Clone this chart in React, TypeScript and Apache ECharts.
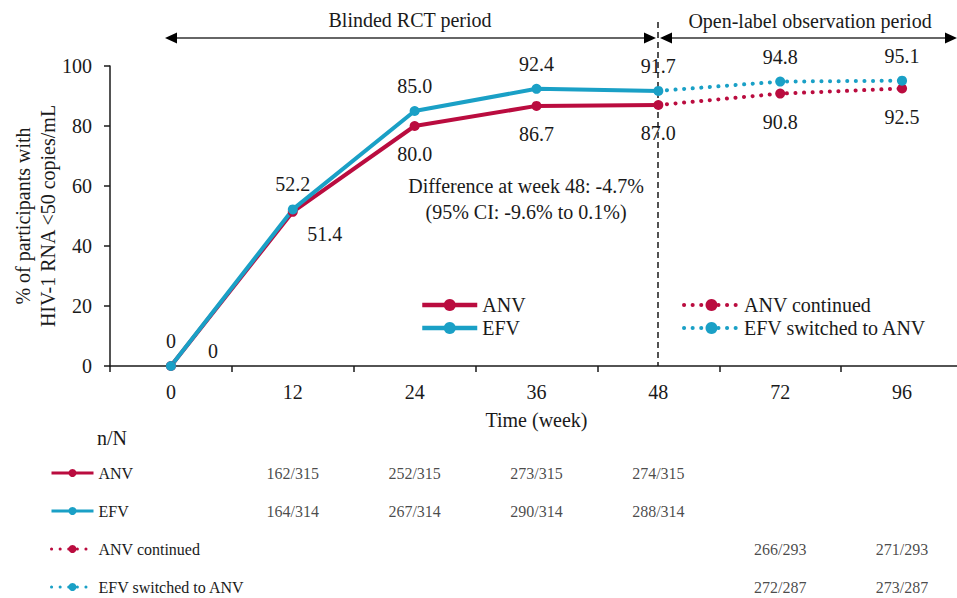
import React, { useEffect, useRef } from "react";
import * as echarts from "echarts";

const weeks = ["0", "12", "24", "36", "48", "72", "96"];
const anv = [0, 51.4, 80.0, 86.7, 87.0, null, null];
const efv = [0, 52.2, 85.0, 92.4, 91.7, null, null];
const anvContinued = [null, null, null, null, 87.0, 90.8, 92.5];
const efvSwitched = [null, null, null, null, 91.7, 94.8, 95.1];
const yTicks = { min: 0, max: 100, interval: 20 };

const rowNames = ["ANV", "EFV", "ANV continued", "EFV switched to ANV"];
const anvN = [null, 162, 252, 273, 274, null, null];
const efvN = [null, 164, 267, 290, 288, null, null];
const anvContN = [null, null, null, null, null, 266, 271];
const efvSwN = [null, null, null, null, null, 272, 273];
const totals = [315, 314, 293, 287];

const RED = "#BA0C3F";
const BLUE = "#1AA0C6";
const FONT = '"Liberation Serif", "Times New Roman", serif';
const INK = "#1a1a1a";

const fmt = (v: number) => (v === 0 ? "0" : v.toFixed(1));

export default function App() {
  const ref = useRef<HTMLDivElement>(null);
  useEffect(() => {
    if (!ref.current) return;
    const chart = echarts.init(ref.current, undefined, { renderer: "svg" });

    const labelBase = {
      show: true,
      fontFamily: FONT,
      fontSize: 20,
      color: INK,
      formatter: (p: any) => fmt(p.value as number),
    };

    const anvData = anv.map((v, i) => {
      if (v === null) return null;
      if (i === 0) return { value: v, label: { position: "inside", offset: [42, -15] } };
      if (i === 1) return { value: v, label: { position: "inside", offset: [32, 22] } };
      return v;
    });
    const dottedData = (arr: (number | null)[]) =>
      arr.map((v, i) => {
        if (v === null) return null;
        if (i === 4) return { value: v, symbol: "none", label: { show: false } };
        return v;
      });

    const nArrays = [anvN, efvN, anvContN, efvSwN];
    const tableData: any[] = [];
    nArrays.forEach((arr, r) => {
      arr.forEach((n, c) => {
        if (n !== null) tableData.push([weeks[c], rowNames[r], `${n}/${totals[r]}`]);
      });
    });

    const dotted = { type: [0.1, 8.5], cap: "round", width: 4 };

    chart.setOption({
      animation: false,
      textStyle: { fontFamily: FONT },
      grid: [
        { left: 110, right: -6, top: 66, bottom: 232, outerBoundsMode: "none", containLabel: false },
        { left: 110, right: -6, top: 454, bottom: -8, outerBoundsMode: "none", containLabel: false },
      ],
      xAxis: [
        {
          type: "category",
          gridIndex: 0,
          data: weeks,
          boundaryGap: true,
          name: "Time (week)",
          nameLocation: "middle",
          nameGap: 44,
          nameMoveOverlap: false,
          nameTextStyle: { fontFamily: FONT, fontSize: 20, color: INK },
          axisLine: { lineStyle: { color: INK, width: 1.5 } },
          axisTick: { show: true, length: 6, lineStyle: { color: INK, width: 1.5 } },
          axisLabel: { fontFamily: FONT, fontSize: 20, color: INK, margin: 16 },
          splitLine: { show: false },
        },
        {
          type: "category",
          gridIndex: 1,
          data: weeks,
          boundaryGap: true,
          show: false,
        },
      ],
      yAxis: [
        {
          type: "value",
          gridIndex: 0,
          min: yTicks.min,
          max: yTicks.max,
          interval: yTicks.interval,
          name: "% of participants with\nHIV-1 RNA <50 copies/mL",
          nameLocation: "middle",
          nameGap: 50,
          nameMoveOverlap: false,
          nameTextStyle: { fontFamily: FONT, fontSize: 20, color: INK, lineHeight: 25 },
          axisLine: { show: true, lineStyle: { color: INK, width: 1.5 } },
          axisTick: { show: true, length: 6, lineStyle: { color: INK, width: 1.5 } },
          axisLabel: { fontFamily: FONT, fontSize: 20, color: INK, margin: 18 },
          splitLine: { show: false },
        },
        {
          type: "category",
          gridIndex: 1,
          data: rowNames,
          inverse: true,
          show: false,
        },
      ],
      legend: [
        {
          data: ["ANV", "EFV"],
          orient: "vertical",
          left: 420,
          top: 295,
          padding: 0,
          itemWidth: 55,
          itemHeight: 15,
          itemGap: 3,
          lineStyle: { width: 4.5 },
          textStyle: { fontFamily: FONT, fontSize: 20, color: INK, lineHeight: 20 },
        },
        {
          data: ["ANV continued", "EFV switched to ANV"],
          orient: "vertical",
          left: 682,
          top: 295,
          padding: 0,
          itemWidth: 55,
          itemHeight: 15,
          itemGap: 3,
          lineStyle: { width: 4 },
          textStyle: { fontFamily: FONT, fontSize: 20, color: INK, lineHeight: 20 },
        },
        {
          data: rowNames,
          orient: "vertical",
          left: 50,
          top: 465,
          padding: 0,
          itemWidth: 42,
          itemHeight: 10,
          itemGap: 22,
          lineStyle: { width: 3 },
          textStyle: { fontFamily: FONT, fontSize: 16, color: INK, lineHeight: 16 },
        },
      ],
      series: [
        {
          name: "ANV continued",
          type: "line",
          xAxisIndex: 0,
          yAxisIndex: 0,
          data: dottedData(anvContinued),
          symbol: "circle",
          symbolSize: 10,
          color: RED,
          lineStyle: { color: RED, ...dotted },
          itemStyle: { color: RED },
          label: { ...labelBase, position: "bottom", distance: 13 },
        },
        {
          name: "EFV switched to ANV",
          type: "line",
          xAxisIndex: 0,
          yAxisIndex: 0,
          data: dottedData(efvSwitched),
          symbol: "circle",
          symbolSize: 10,
          color: BLUE,
          lineStyle: { color: BLUE, ...dotted },
          itemStyle: { color: BLUE },
          label: { ...labelBase, position: "top", distance: 10 },
        },
        {
          name: "ANV",
          type: "line",
          xAxisIndex: 0,
          yAxisIndex: 0,
          data: anvData,
          symbol: "circle",
          symbolSize: 10,
          color: RED,
          lineStyle: { color: RED, width: 4 },
          itemStyle: { color: RED },
          label: { ...labelBase, position: "bottom", distance: 13 },
        },
        {
          name: "EFV",
          type: "line",
          xAxisIndex: 0,
          yAxisIndex: 0,
          data: efv,
          symbol: "circle",
          symbolSize: 10,
          color: BLUE,
          lineStyle: { color: BLUE, width: 4 },
          itemStyle: { color: BLUE },
          label: { ...labelBase, position: "top", distance: 10 },
        },
        {
          name: "n/N",
          type: "scatter",
          xAxisIndex: 1,
          yAxisIndex: 1,
          data: tableData,
          symbolSize: 1,
          silent: true,
          itemStyle: { color: "transparent" },
          label: {
            show: true,
            position: "inside",
            fontFamily: FONT,
            fontSize: 16,
            color: INK,
            formatter: (p: any) => p.value[2],
          },
        },
      ],
      graphic: [
        {
          type: "line",
          shape: { x1: 658, y1: 22, x2: 658, y2: 366 },
          style: { stroke: INK, lineWidth: 1.5, lineDash: [6, 4] },
          silent: true,
        },
        { type: "line", shape: { x1: 172, y1: 38, x2: 650, y2: 38 }, style: { stroke: "#333", lineWidth: 1.5 } },
        { type: "polygon", shape: { points: [[165, 38], [177, 32.5], [177, 43.5]] }, style: { fill: "#000" } },
        { type: "polygon", shape: { points: [[656, 38], [644, 32.5], [644, 43.5]] }, style: { fill: "#000" } },
        { type: "line", shape: { x1: 666, y1: 38, x2: 950, y2: 38 }, style: { stroke: "#333", lineWidth: 1.5 } },
        { type: "polygon", shape: { points: [[660, 38], [672, 32.5], [672, 43.5]] }, style: { fill: "#000" } },
        { type: "polygon", shape: { points: [[957, 38], [945, 32.5], [945, 43.5]] }, style: { fill: "#000" } },
        {
          type: "text",
          x: 410,
          y: 20,
          style: {
            text: "Blinded RCT period",
            font: `20px ${FONT}`,
            fill: INK,
            align: "center",
            verticalAlign: "middle",
            textAlign: "center",
            textVerticalAlign: "middle",
          },
        },
        {
          type: "text",
          x: 810,
          y: 21,
          style: {
            text: "Open-label observation period",
            font: `20px ${FONT}`,
            fill: INK,
            align: "center",
            verticalAlign: "middle",
            textAlign: "center",
            textVerticalAlign: "middle",
          },
        },
        {
          type: "text",
          x: 526,
          y: 199,
          style: {
            text: "Difference at week 48: -4.7%\n(95% CI: -9.6% to 0.1%)",
            font: `20px ${FONT}`,
            lineHeight: 26,
            fill: INK,
            align: "center",
            verticalAlign: "middle",
            textAlign: "center",
            textVerticalAlign: "middle",
          },
        },
        {
          type: "text",
          x: 97,
          y: 438,
          style: {
            text: "n/N",
            font: `20px ${FONT}`,
            fill: INK,
            align: "left",
            verticalAlign: "middle",
            textAlign: "left",
            textVerticalAlign: "middle",
          },
        },
      ],
    });
    return () => chart.dispose();
  }, []);
  return (
    <div
      ref={ref}
      style={{ position: "absolute", left: 0, top: 0, width: 957, height: 598, background: "#fff" }}
    />
  );
}
